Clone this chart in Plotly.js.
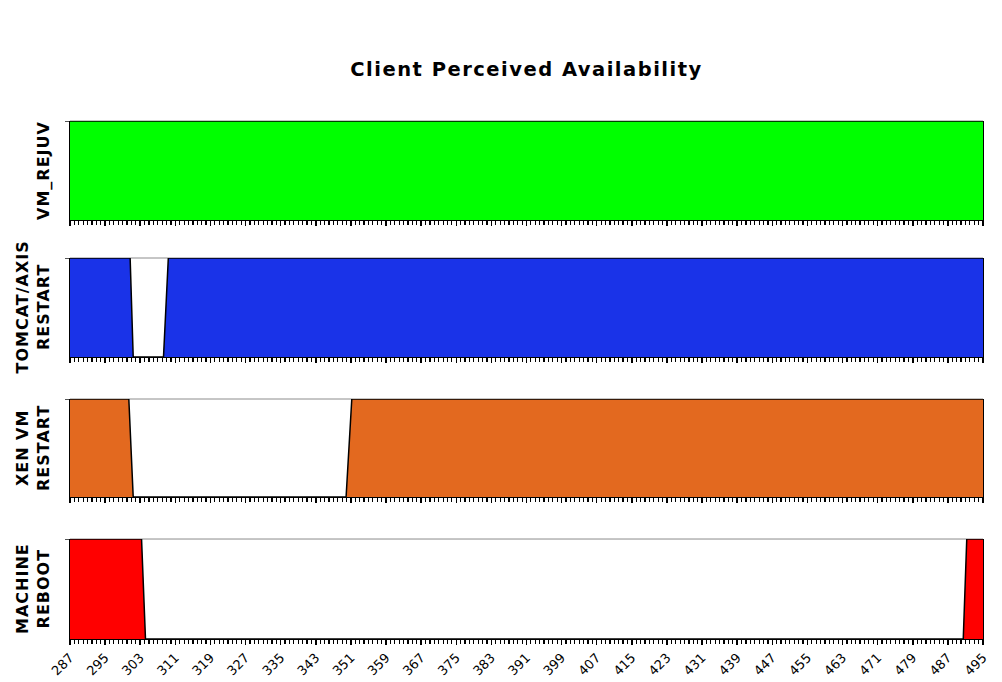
<!DOCTYPE html>
<html>
<head>
<meta charset="utf-8">
<script src="https://cdn.plot.ly/plotly-3.0.1.min.js"></script>
<style>html,body{margin:0;padding:0;background:#fff;}#chart{width:1002px;height:682px;}</style>
</head>
<body>
<div id="chart"></div>
<script>
// Panel names (top to bottom)
const panelNames = ["VM_REJUV", "TOMCAT/AXIS<br>RESTART", "XEN VM<br>RESTART", "MACHINE<br>REBOOT"];
const fillColors = ["#00ff00", "#1a33e8", "#e3691f", "#ff0000"];

// Availability (1 = available, 0 = unavailable) at state-change instants
const vmRejuvTime = [287, 495];
const vmRejuvAvail = [1, 1];

const tomcatTime = [287, 300.7, 301.4, 308.3, 309.4, 495];
const tomcatAvail = [1, 1, 0, 0, 1, 1];

const xenTime = [287, 300.4, 301.4, 349.9, 351.2, 495];
const xenAvail = [1, 1, 0, 0, 1, 1];

const machineTime = [287, 303.3, 304.2, 490.5, 491.3, 495];
const machineAvail = [1, 1, 0, 0, 1, 1];

// X-axis tick labels
const tickValues = [287, 295, 303, 311, 319, 327, 335, 343, 351, 359, 367, 375, 383, 391, 399, 407, 415, 423, 431, 439, 447, 455, 463, 471, 479, 487, 495];
const tickLabels = ["287", "295", "303", "311", "319", "327", "335", "343", "351", "359", "367", "375", "383", "391", "399", "407", "415", "423", "431", "439", "447", "455", "463", "471", "479", "487", "495"];

const seriesTimes = [vmRejuvTime, tomcatTime, xenTime, machineTime];
const seriesAvail = [vmRejuvAvail, tomcatAvail, xenAvail, machineAvail];

const domains = [[0.809, 1.0], [0.5444, 0.7355], [0.2741, 0.4633], [0.0, 0.193]];

const traces = [];
const layout = {
  width: 1002, height: 682,
  paper_bgcolor: "#ffffff", plot_bgcolor: "#ffffff",
  margin: {l: 70, r: 19, t: 121, b: 43},
  showlegend: false,
  font: {family: "DejaVu Sans", color: "#000"},
  title: {
    text: "<b><span style=\"letter-spacing:1.5px\">Client Perceived Availability</span></b>",
    font: {family: "DejaVu Sans", size: 19.5, color: "#000"},
    x: 0.5, xref: "paper", xanchor: "center",
    y: 1 - 69 / 682, yref: "container", yanchor: "middle"
  },
  shapes: [],
  annotations: []
};

for (let i = 0; i < 4; i++) {
  const sfx = i === 0 ? "" : String(i + 1);
  traces.push({
    type: "scatter", mode: "lines",
    x: seriesTimes[i], y: seriesAvail[i],
    xaxis: "x" + sfx, yaxis: "y" + sfx,
    line: {color: "#000", width: 1.5, shape: "linear"},
    fill: "tozeroy", fillcolor: fillColors[i],
    hoverinfo: "skip"
  });
  layout["xaxis" + sfx] = {
    anchor: "y" + sfx,
    domain: [0, 1],
    range: [287, 495],
    matches: i === 0 ? undefined : "x",
    showgrid: false, zeroline: false,
    showline: true, linecolor: "#000", linewidth: 1,
    tickmode: "array", tickvals: tickValues, ticktext: tickLabels,
    ticks: "outside", ticklen: 5, tickwidth: 1.5, tickcolor: "#000",
    minor: {dtick: 1, tick0: 287, ticks: "outside", ticklen: 4, tickwidth: 1.2, tickcolor: "#000", showgrid: false},
    showticklabels: i === 3,
    tickangle: -45,
    tickfont: {family: "DejaVu Sans", size: 13, color: "#000"}
  };
  layout["yaxis" + sfx] = {
    anchor: "x" + sfx,
    domain: domains[i],
    range: [0, 1],
    showgrid: false, zeroline: false,
    showline: true, linecolor: "#000", linewidth: 1, mirror: true,
    tickmode: "array", tickvals: [1], ticks: "outside", ticklen: 4, tickcolor: "#555",
    showticklabels: false
  };
  layout.shapes.push({
    type: "line", xref: "x" + sfx + " domain", yref: "y" + sfx + " domain",
    x0: 0, x1: 1, y0: 1, y1: 1,
    line: {color: "#8c8c8c", width: 1}, layer: "below"
  });
  layout.annotations.push({
    text: "<b><span style=\"letter-spacing:1px\">" + panelNames[i].replace("<br>", "</span><br><span style=\"letter-spacing:1px\">") + "</span></b>",
    xref: "paper", yref: "y" + sfx + " domain",
    x: 0, y: 0.5, xanchor: "right", yanchor: "middle",
    xshift: -15, textangle: -90, showarrow: false,
    font: {family: "DejaVu Sans", size: 16, color: "#000"}
  });
}

Plotly.newPlot("chart", traces, layout, {displayModeBar: false, staticPlot: true});
</script>
</body>
</html>
